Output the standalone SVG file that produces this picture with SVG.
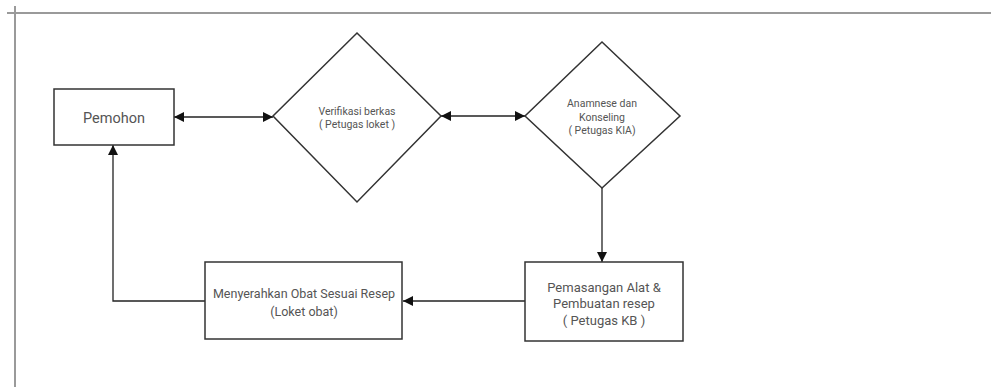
<svg xmlns="http://www.w3.org/2000/svg" width="991" height="387" viewBox="0 0 991 387">
<style>
.node{fill:#fff;stroke:#333;stroke-width:1.5}
.lbl{font-family:"Roboto","Liberation Sans",sans-serif;fill:#555;text-anchor:middle}
.conn{fill:none;stroke:#222;stroke-width:1.3}
.frame{stroke:#9a9a9a;stroke-width:2;fill:none}
</style>
<defs>
<marker id="ah" viewBox="0 0 10 10" refX="10" refY="5" markerWidth="10" markerHeight="10" markerUnits="userSpaceOnUse" orient="auto-start-reverse">
<path d="M0,0 L10,5 L0,10 z" fill="#111"/>
</marker>
</defs>
<rect width="991" height="387" fill="#fff"/>
<g id="frame">
<line class="frame" x1="7" y1="13" x2="991" y2="13"/>
<line class="frame" x1="15" y1="6" x2="15" y2="387"/>
</g>
<g id="connectors">
<line class="conn" x1="174" y1="117" x2="273" y2="117" marker-start="url(#ah)" marker-end="url(#ah)"/>
<line class="conn" x1="441" y1="116" x2="525" y2="116" marker-start="url(#ah)" marker-end="url(#ah)"/>
<line class="conn" x1="602" y1="188" x2="602" y2="262" marker-end="url(#ah)"/>
<line class="conn" x1="525" y1="301" x2="403" y2="301" marker-end="url(#ah)"/>
<polyline class="conn" points="205,301 113,301 113,145" marker-end="url(#ah)"/>
</g>
<g id="pemohon">
<rect class="node" x="54" y="89" width="120" height="56"/>
<text class="lbl" x="114" y="123" font-size="14.5">Pemohon</text>
</g>
<g id="verifikasi">
<polygon class="node" points="357,33 441,116 357,202 273,116"/>
<text class="lbl" x="357" y="114.5" font-size="10.5">Verifikasi berkas</text>
<text class="lbl" x="357" y="128" font-size="10.5">( Petugas loket )</text>
</g>
<g id="anamnese">
<polygon class="node" points="602,42 680,116 602,188 525,116"/>
<text class="lbl" x="602" y="107" font-size="10.5">Anamnese dan</text>
<text class="lbl" x="602" y="120.5" font-size="10.5">Konseling</text>
<text class="lbl" x="602" y="134" font-size="10.5">( Petugas KIA)</text>
</g>
<g id="pemasangan">
<rect class="node" x="525" y="262" width="158" height="79"/>
<text class="lbl" x="604" y="291.5" font-size="13">Pemasangan Alat &amp;</text>
<text class="lbl" x="604" y="308" font-size="13">Pembuatan resep</text>
<text class="lbl" x="604" y="325" font-size="13">( Petugas KB )</text>
</g>
<g id="menyerahkan">
<rect class="node" x="205" y="262" width="197" height="77"/>
<text class="lbl" x="304" y="297.5" font-size="12.5">Menyerahkan Obat Sesuai Resep</text>
<text class="lbl" x="304" y="316" font-size="12.5">(Loket obat)</text>
</g>
</svg>
